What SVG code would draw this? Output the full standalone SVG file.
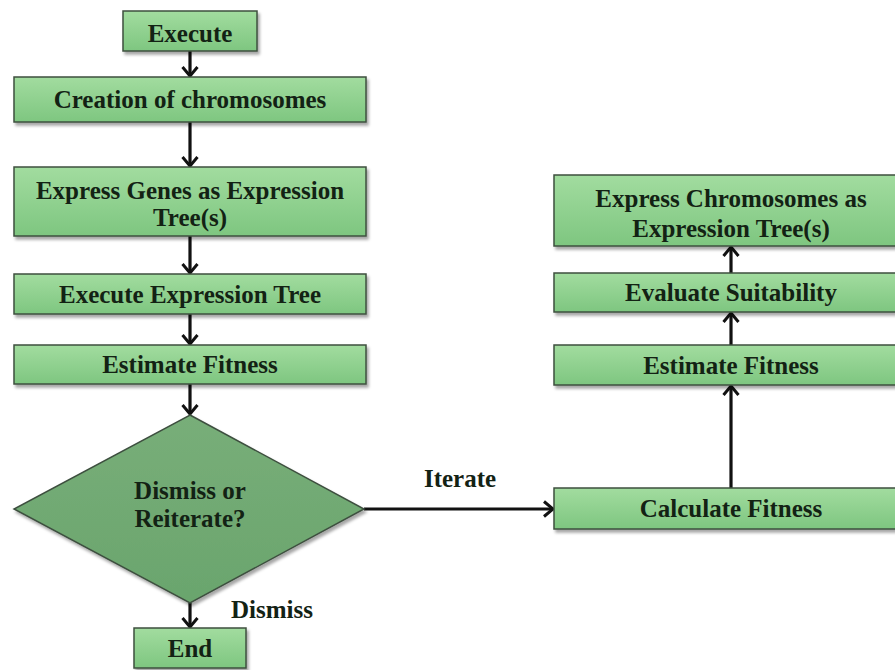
<svg xmlns="http://www.w3.org/2000/svg" width="895" height="670" viewBox="0 0 895 670">
<defs>
<linearGradient id="g" x1="0" y1="0" x2="0" y2="1">
<stop offset="0" stop-color="#a2dc9f"/>
<stop offset="1" stop-color="#7ec680"/>
</linearGradient>
<linearGradient id="gd" x1="0" y1="0" x2="0" y2="1">
<stop offset="0" stop-color="#78ae79"/>
<stop offset="1" stop-color="#6aa56d"/>
</linearGradient>
<filter id="sh" x="-10%" y="-10%" width="130%" height="140%">
<feDropShadow dx="2" dy="3" stdDeviation="1.5" flood-color="#000" flood-opacity="0.35"/>
</filter>
<marker id="ah" viewBox="0 0 12 18" refX="10.5" refY="9" markerWidth="12" markerHeight="18" markerUnits="userSpaceOnUse" orient="auto">
<path d="M1.5,1.5 L10.5,9 L1.5,16.5" fill="none" stroke="#111" stroke-width="3" stroke-linejoin="miter"/>
</marker>
</defs>
<style>
.box{fill:url(#g);stroke:#3e4f3f;stroke-width:1.5;filter:url(#sh)}
.dia{fill:url(#gd);stroke:#3e4f3f;stroke-width:1.5;filter:url(#sh)}
.t{font-family:"Liberation Serif","Times New Roman",serif;font-weight:bold;font-size:25px;fill:#132214;text-anchor:middle}
.c{stroke:#111;stroke-width:3.2;fill:none;marker-end:url(#ah)}
</style>
<rect width="895" height="670" fill="#fff"/>
<g id="connectors">
<line class="c" x1="190" y1="51" x2="190" y2="76"/>
<line class="c" x1="190" y1="122" x2="190" y2="166"/>
<line class="c" x1="190" y1="236" x2="190" y2="273"/>
<line class="c" x1="190" y1="314" x2="190" y2="344"/>
<line class="c" x1="190" y1="384" x2="190" y2="414"/>
<line class="c" x1="190" y1="603" x2="190" y2="627"/>
<line class="c" x1="364" y1="509" x2="553" y2="509"/>
<line class="c" x1="731" y1="488" x2="731" y2="386"/>
<line class="c" x1="731" y1="345" x2="731" y2="313"/>
<line class="c" x1="731" y1="273" x2="731" y2="247"/>
<text class="t" x="460" y="487">Iterate</text>
<text class="t" x="272" y="618">Dismiss</text>
</g>
<g id="n-execute">
<rect class="box" x="123" y="11" width="134" height="40"/>
<text class="t" x="190" y="42">Execute</text>
</g>
<g id="n-creation">
<rect class="box" x="14" y="77" width="352" height="45"/>
<text class="t" x="190" y="108">Creation of chromosomes</text>
</g>
<g id="n-express-genes">
<rect class="box" x="14" y="167" width="352" height="69"/>
<text class="t" x="190" y="199">Express Genes as Expression</text>
<text class="t" x="190" y="226">Tree(s)</text>
</g>
<g id="n-execute-tree">
<rect class="box" x="14" y="274" width="352" height="40"/>
<text class="t" x="190" y="303">Execute Expression Tree</text>
</g>
<g id="n-estimate-left">
<rect class="box" x="14" y="345" width="352" height="39"/>
<text class="t" x="190" y="373">Estimate Fitness</text>
</g>
<g id="n-decision">
<polygon class="dia" points="190,415 364,509 190,603 14,509"/>
<text class="t" x="190" y="499">Dismiss or</text>
<text class="t" x="190" y="527">Reiterate?</text>
</g>
<g id="n-end">
<rect class="box" x="134" y="628" width="112" height="40"/>
<text class="t" x="190" y="657">End</text>
</g>
<g id="n-calculate">
<rect class="box" x="554" y="488" width="354" height="41"/>
<text class="t" x="731" y="517">Calculate Fitness</text>
</g>
<g id="n-estimate-right">
<rect class="box" x="554" y="345" width="354" height="40"/>
<text class="t" x="731" y="374">Estimate Fitness</text>
</g>
<g id="n-evaluate">
<rect class="box" x="554" y="273" width="354" height="39"/>
<text class="t" x="731" y="301">Evaluate Suitability</text>
</g>
<g id="n-express-chrom">
<rect class="box" x="554" y="175" width="354" height="71"/>
<text class="t" x="731" y="207">Express Chromosomes as</text>
<text class="t" x="731" y="237">Expression Tree(s)</text>
</g>
</svg>
